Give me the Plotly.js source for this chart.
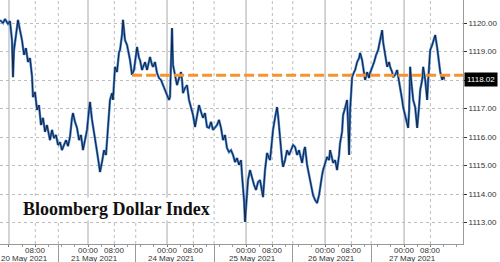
<!DOCTYPE html>
<html>
<head>
<meta charset="utf-8">
<script src="https://cdn.plot.ly/plotly-3.0.1.min.js"></script>
<style>
html,body{margin:0;padding:0;background:#fff;}
#chart{width:500px;height:262px;}
</style>
</head>
<body>
<div id="chart"></div>
<script>
// Trading-time hours since 20 May 2021 00:00 (weekend removed: 21 May -> 24 May consecutive)
const hours = [-2.73,-1.82,-1.22,-0.30,0.30,0.91,1.22,1.52,2.13,2.73,3.34,3.95,4.56,5.16,5.77,6.38,6.99,7.29,7.90,8.51,
9.11,9.72,10.33,10.94,11.54,12.46,13.06,13.67,14.28,14.89,15.49,16.10,16.71,17.32,17.92,18.53,19.14,19.44,20.05,20.66,
21.27,21.87,22.48,23.09,23.70,24.30,24.61,25.22,25.82,26.43,27.04,27.65,28.25,28.86,29.47,29.77,30.38,30.68,31.29,31.59,
32.20,32.81,33.42,33.72,34.33,34.63,35.24,35.85,36.46,36.76,37.37,37.97,38.58,38.89,39.49,39.80,40.41,40.71,41.32,41.93,
42.53,42.84,43.45,43.75,44.36,44.96,45.57,46.18,46.79,47.39,48.00,48.61,48.91,49.22,49.52,49.82,50.43,51.04,51.65,52.25,
52.56,52.86,53.47,54.08,54.68,55.29,55.90,56.51,57.11,57.72,58.33,58.93,59.54,60.15,60.76,61.36,61.97,62.58,63.19,63.79,
64.40,65.01,65.62,66.22,66.83,67.44,68.05,68.65,69.26,69.87,70.48,70.78,71.39,71.69,72.00,72.60,73.21,73.82,74.43,75.04,
75.64,76.25,76.86,77.16,77.77,78.38,78.99,79.29,79.90,80.20,80.81,81.42,81.72,82.33,82.94,83.24,83.85,84.46,85.07,85.67,
86.28,86.89,87.50,88.10,88.71,89.02,89.63,89.93,90.54,91.15,91.75,92.36,92.97,93.57,94.18,94.48,95.09,95.40,96.00,96.61,
97.22,97.52,98.13,98.44,99.04,99.65,100.26,100.57,101.17,101.48,102.09,102.69,103.00,103.30,103.61,103.91,104.22,104.82,105.13,105.74,
106.34,106.65,107.26,107.56,108.17,108.78,109.38,109.69,110.30,110.90,111.51,112.12,112.73,113.34,113.64,114.25,114.86,115.46,115.77,116.38,
116.68,117.29,117.90,118.50,118.81,119.42,119.72,120.33,120.94,121.24,121.55,121.85,122.16,122.77,123.37,123.68,123.98,124.59,124.90,125.50,
125.81,126.42,127.02,127.33,127.94,128.55,129.15,129.46,130.07,130.37,130.98,131.59,131.89,132.20];
const dollarIndex = [1120.10,1120.00,1120.14,1119.97,1120.07,1119.40,1118.10,1119.05,1119.58,1120.11,1119.75,1119.40,1118.88,1119.12,1118.63,1118.77,1118.14,1117.40,1117.58,1116.95,
1117.12,1116.42,1116.67,1116.18,1116.42,1115.89,1116.25,1115.96,1116.07,1115.72,1115.82,1115.54,1115.72,1115.89,1115.68,1116.00,1116.67,1116.84,1116.53,1116.32,
1115.89,1116.07,1115.54,1115.89,1116.25,1116.95,1117.23,1116.60,1116.07,1115.72,1115.26,1114.77,1115.12,1115.54,1115.37,1115.89,1116.77,1117.30,1117.54,1117.30,
1118.46,1118.28,1118.98,1119.05,1119.58,1120.11,1119.40,1119.23,1118.88,1118.70,1118.18,1118.35,1118.88,1119.16,1118.77,1118.70,1118.35,1118.46,1118.63,1118.35,
1118.70,1118.81,1118.53,1118.46,1118.63,1118.25,1118.07,1118.00,1117.82,1117.65,1117.47,1117.30,1117.40,1118.70,1119.82,1118.53,1118.18,1117.82,1118.07,1118.28,
1118.00,1117.54,1117.72,1117.82,1117.30,1117.02,1116.77,1116.35,1116.77,1117.12,1116.88,1116.67,1116.84,1116.35,1116.32,1116.53,1116.25,1116.32,1116.42,1116.60,
1116.32,1115.89,1116.07,1115.61,1115.47,1115.54,1115.37,1115.12,1115.26,1115.02,1115.19,1114.66,1113.79,1113.02,1113.61,1114.49,1114.84,1114.56,1114.32,1114.14,
1114.42,1114.49,1113.96,1113.89,1114.84,1115.44,1115.26,1115.19,1115.89,1116.25,1116.67,1117.05,1116.77,1115.89,1115.19,1114.95,1115.19,1115.54,1115.37,1115.54,
1115.72,1115.65,1115.37,1115.54,1115.19,1115.09,1115.54,1115.65,1115.02,1114.66,1114.32,1113.96,1113.79,1113.68,1113.96,1114.24,1114.66,1114.84,1115.12,1115.30,
1115.19,1115.54,1115.26,1115.09,1115.19,1114.84,1115.37,1115.79,1116.18,1116.77,1117.02,1117.30,1116.42,1115.37,1116.95,1117.47,1118.10,1118.28,1118.35,1118.63,
1118.77,1118.95,1118.70,1118.46,1118.00,1118.28,1118.07,1118.25,1118.42,1118.63,1118.88,1119.05,1119.40,1119.75,1119.33,1118.88,1118.46,1118.63,1118.46,1118.28,
1118.10,1118.18,1118.35,1117.93,1117.65,1117.30,1117.05,1116.77,1116.53,1116.32,1116.95,1118.46,1118.00,1117.30,1117.05,1116.67,1116.32,1117.12,1117.65,1118.00,
1118.46,1118.00,1117.30,1118.00,1119.05,1119.23,1119.47,1119.58,1119.12,1118.81,1118.28,1118.00,1118.18,1118.02];

const levelValue = [1118.17, 1118.17];
const levelHours = [37.4, 137.9];
const lastValue = 1118.02;

const timeTickHours = [0, 8, 24, 32, 48, 56, 72, 80, 96, 104, 120, 128];
const timeTickLabels = ['', '08:00', '00:00', '08:00', '00:00', '08:00', '00:00', '08:00', '00:00', '08:00', '00:00', '08:00'];
const dateLabels = ['20 May 2021', '21 May 2021', '24 May 2021', '25 May 2021', '26 May 2021', '27 May 2021'];
const dateLabelHours = [4.6, 26, 49.5, 74, 98, 122.5];
const dayStartHours = [0, 24, 48, 72, 96, 120];
const eightHours = [8, 32, 56, 80, 104, 128];
const sepHours = [15, 38.5, 62.3, 86.2, 110];
const yTicks = [1113, 1114, 1115, 1116, 1117, 1118, 1119, 1120];
const yTickLabels = ['1113.00', '1114.00', '1115.00', '1116.00', '1117.00', '', '1119.00', '1120.00'];

const labelFont = {family:'Liberation Sans', size:8, color:'#333'};

const shapes = [];
dayStartHours.forEach(h => shapes.push({type:'line', xref:'x', yref:'paper', x0:h, x1:h, y0:0, y1:1, layer:'below', line:{color:'#a8a8a8', width:1}}));
eightHours.concat(sepHours).forEach(h => shapes.push({type:'line', xref:'x', yref:'paper', x0:h, x1:h, y0:0, y1:1, layer:'below', line:{color:'#bdbdbd', width:1, dash:'dot'}}));

const annotations = [];
timeTickLabels.forEach((t, i) => {
  if (t) annotations.push({text: t, x: timeTickHours[i], xref:'x', y:-0.025, yref:'paper', yanchor:'middle', xanchor:'center',
    showarrow:false, font:labelFont});
});
dateLabels.forEach((t, i) => annotations.push({
  text: t, x: dateLabelHours[i], xref:'x', y:-0.06, yref:'paper', yanchor:'middle', xanchor:'center',
  showarrow:false, font:labelFont
}));
annotations.push({text:'Bloomberg Dollar Index', x:0.045, xref:'paper', y:0.143, yref:'paper', xanchor:'left', yanchor:'middle',
  showarrow:false, bgcolor:'#fff', font:{family:'Liberation Serif', size:18, color:'#111', weight:'bold'}});
annotations.push({text:lastValue.toFixed(2), x:1, xref:'paper', y:lastValue, yref:'y', xanchor:'left', yanchor:'middle', xshift:1,
  showarrow:false, bgcolor:'#000', borderpad:2, font:{family:'Liberation Sans', size:8, color:'#fff'}});

const traces = [
  {x: hours, y: dollarIndex, type:'scatter', mode:'lines', line:{color:'#3f80d0', width:2.4}, hoverinfo:'skip'},
  {x: hours, y: dollarIndex, type:'scatter', mode:'lines', line:{color:'#15223d', width:1}, hoverinfo:'skip'},
  {x: levelHours, y: levelValue, type:'scatter', mode:'lines', line:{color:'#f7922e', width:3, dash:'10px,4px'}, hoverinfo:'skip'},
  {x: sepHours, y: sepHours.map(() => null), xaxis:'x2', type:'scatter', mode:'lines', hoverinfo:'skip'}
];

const layout = {
  width:500, height:262, showlegend:false,
  paper_bgcolor:'#fff', plot_bgcolor:'#fff',
  margin:{l:0, r:37, t:0, b:18},
  xaxis:{range:[-2.73, 137.9], tickmode:'array', tickvals:timeTickHours, showticklabels:false,
    ticks:'outside', ticklen:2, tickcolor:'#777', showgrid:false, zeroline:false,
    showline:true, linecolor:'#999', linewidth:1,
    minor:{dtick:4, tick0:0, ticks:'outside', ticklen:2, tickcolor:'#999', showgrid:false}},
  xaxis2:{overlaying:'x', matches:'x', side:'bottom', tickmode:'array', tickvals:sepHours, ticks:'outside', ticklen:18,
    tickcolor:'#999', showticklabels:false, showgrid:false, zeroline:false, showline:false},
  yaxis:{side:'right', range:[1112.246, 1120.807], tickmode:'array', tickvals:yTicks, ticktext:yTickLabels,
    ticks:'outside', ticklen:3, tickcolor:'#333',
    showgrid:true, gridcolor:'#bdbdbd', griddash:'dot', zeroline:false,
    showline:true, linecolor:'#999', linewidth:1,
    tickfont:labelFont},
  shapes: shapes,
  annotations: annotations
};

Plotly.newPlot('chart', traces, layout, {staticPlot:true, displayModeBar:false});
</script>
</body>
</html>
